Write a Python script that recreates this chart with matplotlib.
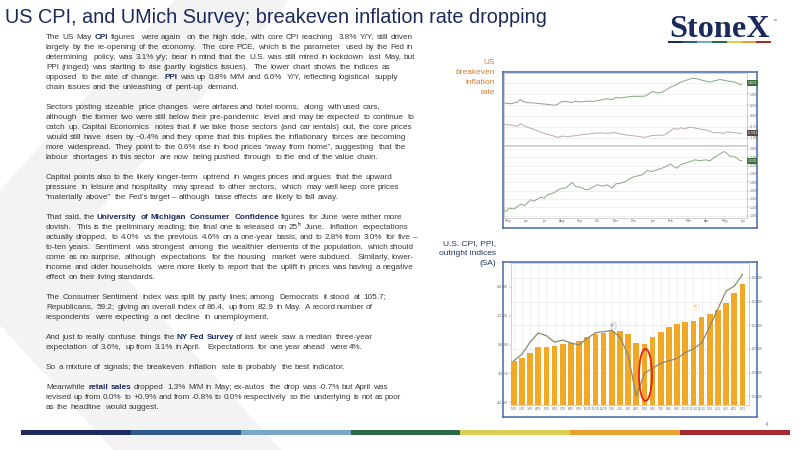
import matplotlib
matplotlib.use('Agg')
import matplotlib.pyplot as plt
from matplotlib.patches import Rectangle, Polygon, Ellipse
from matplotlib.transforms import blended_transform_factory

# ---------------- data ----------------
cpi_months = ['1/19', '2/19', '3/19', '4/19', '5/19', '6/19', '7/19', '8/19', '9/19', '10/19',
              '11/19', '12/19', '1/20', '2/20', '3/20', '4/20', '5/20', '6/20', '7/20', '8/20',
              '9/20', '10/20', '11/20', '12/20', '1/21', '2/21', '3/21', '4/21', '5/21']
cpi_index = [252.6, 253.2, 254.3, 255.5, 255.5, 255.6, 256.1, 256.3, 256.7, 257.6,
             258.2, 258.4, 258.9, 258.9, 258.2, 256.4, 256.1, 257.5, 258.7, 259.7,
             260.2, 260.6, 261.0, 261.7, 262.3, 263.2, 264.7, 266.8, 268.6]
ppi_index = [119.0, 119.55, 120.57, 121.35, 121.12, 120.57, 120.76, 120.51, 120.34, 120.9,
             121.38, 121.46, 121.58, 121.0, 119.5, 116.0, 117.95, 118.37, 118.8, 119.0,
             119.2, 119.7, 120.0, 120.5, 121.9, 123.4, 124.9, 125.3, 126.3]
cpi_ticks = [244, 250, 256, 262, 268]
ppi_ticks = [116, 118, 120, 122, 124, 126]

# breakeven chart: x = months since start of May 2020
month_labels = ['May', 'Jun', 'Jul', 'Aug', 'Sep', 'Oct', 'Nov', 'Dec',
                'Jan', 'Feb', 'Mar', 'Apr', 'May', 'Jun']
nominal_t = [-0.19, 0.18, 0.55, 0.70, 0.82, 1.10, 1.47, 1.83, 2.20, 2.57, 2.75, 2.94, 3.21,
             3.49, 3.76, 4.04, 4.41, 4.77, 5.14, 5.51, 5.78, 5.97, 6.24, 6.61, 6.98, 7.34,
             7.62, 7.80, 7.99, 8.26, 8.45, 8.72, 9.00, 9.27, 9.55, 9.82, 10.01, 10.19, 10.47,
             10.83, 11.20, 11.48, 11.75, 11.94, 12.30, 12.58, 12.76, 12.85, 12.95]
nominal_10y = [0.59, 0.56, 0.64, 0.76, 0.67, 0.61, 0.59, 0.56, 0.53, 0.49, 0.53, 0.64, 0.67,
               0.61, 0.67, 0.64, 0.68, 0.67, 0.73, 0.79, 0.74, 0.85, 0.82, 0.87, 0.90, 0.90,
               0.91, 1.02, 1.12, 1.06, 1.06, 1.17, 1.32, 1.40, 1.55, 1.62, 1.67, 1.73, 1.70,
               1.62, 1.55, 1.62, 1.67, 1.64, 1.58, 1.55, 1.47, 1.43, 1.47]
real_t = [-0.19, 0.18, 0.55, 0.73, 0.92, 1.28, 1.65, 2.02, 2.39, 2.75, 3.03, 3.30, 3.67, 4.22,
          4.77, 5.14, 5.51, 5.87, 6.24, 6.61, 6.98, 7.34, 7.62, 7.90, 8.26, 8.63, 8.81, 9.00,
          9.18, 9.36, 9.55, 9.82, 10.01, 10.28, 10.65, 11.02, 11.38, 11.66, 11.94, 12.12,
          12.49, 12.85, 12.95]
real_10y = [-0.39, -0.42, -0.47, -0.35, -0.45, -0.57, -0.68, -0.80, -0.88, -0.98, -0.92,
            -0.95, -0.91, -0.85, -0.80, -0.77, -0.80, -0.76, -0.82, -0.88, -0.91, -0.95,
            -0.98, -0.91, -0.88, -0.88, -0.80, -0.68, -0.57, -0.62, -0.54, -0.60, -0.51,
            -0.54, -0.60, -0.65, -0.77, -0.76, -0.80, -0.73, -0.76, -0.80, -0.79]
be_t = [-0.19, -0.09, 0.09, 0.37, 0.73, 0.92, 1.28, 1.47, 1.65, 1.83, 2.02, 2.20, 2.57, 2.84,
        3.03, 3.21, 3.40, 3.58, 3.76, 4.04, 4.31, 4.50, 4.77, 4.96, 5.23, 5.51, 5.78, 5.97,
        6.24, 6.52, 6.70, 6.89, 7.16, 7.44, 7.71, 7.99, 8.26, 8.54, 8.81, 9.00, 9.18, 9.36,
        9.55, 9.82, 10.10, 10.37, 10.65, 10.93, 11.20, 11.38, 11.66, 11.94, 12.12, 12.30,
        12.49, 12.67, 12.85, 12.95]
breakeven_10y = [1.12, 1.10, 1.18, 1.16, 1.28, 1.24, 1.38, 1.35, 1.40, 1.44, 1.42, 1.50, 1.55,
                 1.63, 1.66, 1.66, 1.74, 1.79, 1.70, 1.68, 1.62, 1.63, 1.70, 1.74, 1.71, 1.74,
                 1.66, 1.76, 1.78, 1.82, 1.87, 1.92, 1.95, 1.98, 2.08, 2.06, 2.10, 2.14, 2.19,
                 2.24, 2.18, 2.14, 2.22, 2.26, 2.30, 2.34, 2.32, 2.34, 2.32, 2.38, 2.46, 2.54,
                 2.50, 2.42, 2.43, 2.38, 2.32, 2.32]
upper_ticks = [-1.0, -0.5, 0.0, 0.5, 1.0, 1.5]
lower_ticks = [1.0, 1.2, 1.4, 1.6, 1.8, 2.0, 2.2, 2.4, 2.6]

title = 'US CPI, and UMich Survey; breakeven inflation rate dropping'
# (line text, right end of the line in the reference or None for natural spacing)
paragraphs = [
    [("The US May **CPI** figures  were again  on the high side, with core CPI reaching  3.8% Y/Y, still driven", 413),
     ("largely by the re-opening of the economy.  The core PCE, which is the parameter  used by the Fed in", 413),
     ("determining  policy, was 3.1% y/y; bear in mind that the U.S. was still mired in lockdown  last May, but", 415),
     ("PPI (ringed) was starting to rise (partly logistics issues).  The lower chart shows the indices as", 390),
     ("opposed  to the rate of change.  **PPI** was up 0.8% M/M and 6.6%  Y/Y, reflecting logistical  supply", 398),
     ("chain issues and the unleashing  of pent-up  demand.", None)],
    [("Sectors posting  sizeable  price changes  were airfares and hotel rooms,  along  with used cars,", 380),
     ("although  the former two were still below their pre-pandemic  level and may be expected  to continue  to", 415),
     ("catch up. Capital Economics  notes that if we take those sectors (and car rentals) out, the core prices", 412),
     ("would still have  risen by ~0.4% and they opine that this implies the inflationary  forces are becoming", 406),
     ("more widespread.  They point to the 0.6% rise in food prices \u201caway from home\u201d, suggesting  that the", 406),
     ("labour  shortages  in this sector  are now  being pushed  through  to the end of the value chain.", 378)],
    [("Capital points also to the likely longer-term  uptrend  in wages prices and argues  that the upward", 392),
     ("pressure  in leisure and hospitality  may spread  to other sectors,  which  may well keep core prices", 399),
     ("\u201cmaterially above\u201d  the Fed\u2019s target \u2013 although  base effects  are likely to fall away.", 338)],
    [("That said, the **University  of Michigan  Consumer  Confidence** figures  for June were rather more", 402),
     ("dovish.  This is the preliminary reading; the final one is released on 25^th June.  Inflation  expectations", 408),
     ("actually dropped,  to 4.0%  vs the previous  4.6% on a one-year  basis, and to 2.8% from 3.0%  for five \u2013", 417),
     ("to-ten years.  Sentiment  was strongest  among  the wealthier  elements of the population,  which should", 414),
     ("come as no surprise, although  expectations  for the housing  market were subdued.  Similarly, lower-", 414),
     ("income and older households  were more likely to report that the uplift in prices was having a negative", 413),
     ("effect on their living standards.", None)],
    [("The Consumer Sentiment  index was split by party lines; among  Democrats  it stood  at 105.7;", 386),
     ("Republicans,  59.2;  giving an overall index of 86.4,  up from 82.9  in May.  A record number of", 373),
     ("respondents  were expecting  a net decline  in unemployment.", None)],
    [("And just to really confuse  things the **NY Fed Survey** of last week  saw a median  three-year", 373),
     ("expectation  of 3.6%,  up from 3.1% in April.   Expectations  for one year ahead  were 4%.", 363)],
    [("So a mixture of signals; the breakeven  inflation  rate is probably  the best indicator.", None)],
    [("Meanwhile  **retail sales** dropped  1.3% M/M in May; ex-autos  the drop was -0.7% but April was", 388),
     ("revised up from 0.0%  to +0.9% and from -0.8% to 0.0% respectively  so the underlying  is not as poor", 401),
     ("as the headline  would suggest.", None)],
]

brand_colors = ['#1c2a5e', '#2f5b8c', '#78a6c8', '#2b6a48', '#d9cf56', '#e8a02e', '#a82a2e']

# ---------------- figure ----------------
W, H = 800, 450
fig = plt.figure(figsize=(8, 4.5), dpi=100)
fig.patch.set_facecolor('white')
renderer = fig.canvas.get_renderer()

bg = fig.add_axes([0, 0, 1, 1])
bg.set_xlim(0, W)
bg.set_ylim(H, 0)
bg.axis('off')
bg.set_zorder(-5)

FAM = ['Liberation Sans', 'DejaVu Sans']
NAVY = '#1b2a5c'

# watermark chevron
bg.add_patch(Polygon([(175, 0), (290, 0), (82, 229), (281, 450), (113, 450), (0, 325), (0, 190)],
                     closed=True, fc='#f3f3f3', ec='none', zorder=0))

# bottom colour bar
x0b, x1b = 21, 790
seg = (x1b - x0b) / len(brand_colors)
for i, c in enumerate(brand_colors):
    bg.add_patch(Rectangle((x0b + i * seg, 430), seg + 0.3, 4.7, fc=c, ec='none', zorder=2))
# logo bar
x0l, x1l = 668, 771
segl = (x1l - x0l) / len(brand_colors)
for i, c in enumerate(brand_colors):
    bg.add_patch(Rectangle((x0l + i * segl, 41), segl + 0.2, 2.4, fc=c, ec='none', zorder=2))


def measure(s, size, bold=False, family=FAM):
    t = bg.text(0, 0, s, fontsize=size, fontweight='bold' if bold else 'normal', family=family)
    w = t.get_window_extent(renderer).width
    t.remove()
    return w


# logo text fitted to width
logo_fam = ['Liberation Serif', 'DejaVu Serif']
lw0 = measure('StoneX', 20, bold=True, family=logo_fam)
logo_size = 20 * 100 / lw0
bg.text(669, 37, 'StoneX', fontsize=logo_size, fontweight='bold', family=logo_fam,
        color=NAVY, va='baseline', ha='left', zorder=3)
bg.text(773, 21, '\u2122', fontsize=3, family=FAM, color=NAVY, va='center', ha='left')

# title fitted to its width in the reference
tw0 = measure(title, 15)
bg.text(5, 22.7, title, fontsize=15 * 540 / tw0, family=FAM, color=NAVY, va='baseline',
        ha='left', zorder=3)

# body text, word by word, spread to the reference line ends
FS = 5.9
BODY = '#3a3a3a'
space_w = measure('a a', FS) - measure('aa', FS)
DEEP = set('gjpqy()[]{}|_Q')


def put(x, y, s, size, bold, col):
    # a word whose lowest glyph is a trailing comma/semicolon is rasterised one
    # pixel low by the text renderer; lift it back onto the common baseline
    if s[-1] in ',;' and not (set(s) & DEEP):
        y -= 1
    bg.text(x, y, s, fontsize=size, fontweight='bold' if bold else 'normal', family=FAM,
            color=col, va='baseline', ha='left', zorder=3)


def draw_line(x0, ybase, line, target):
    parts = line.split('**')
    words, gaps = [], []
    pending = 0
    for i, part in enumerate(parts):
        bold = (i % 2 == 1)
        for j, p in enumerate(part.split(' ')):
            if j > 0:
                pending += 1
            if p == '':
                continue
            if words:
                gaps.append(pending)
            pending = 0
            words.append((p, bold))
    widths = []
    for w, b in words:
        if '^' in w:
            base, sup = w.split('^')
            widths.append(measure(base, FS, b) + measure(sup, FS * 0.62, b))
        else:
            widths.append(measure(w, FS, b))
    unit = space_w
    ng = sum(gaps)
    if target is not None and ng > 0:
        unit = (target - x0 - sum(widths)) / ng
        unit = max(0.6 * space_w, min(unit, 2.5 * space_w))
    x = x0
    for k, ((w, b), wd) in enumerate(zip(words, widths)):
        col = NAVY if b else BODY
        if '^' in w:
            base, sup = w.split('^')
            put(x, ybase, base, FS, b, col)
            xb = x + measure(base, FS, b)
            put(xb, ybase - 3, sup, FS * 0.62, b, col)
        else:
            put(x, ybase, w, FS, b, col)
        x += wd
        if k < len(gaps):
            x += gaps[k] * unit


row = 0
for para in paragraphs:
    for line, target in para:
        draw_line(46, round(36.7 + 10 * row + 2.7), line, target)
        row += 1
    row += 1

# side labels
for k, s in enumerate(['US', 'breakeven', 'inflation', 'rate']):
    bg.text(495, 62.7 + 10 * k, s, fontsize=6.0, family=FAM, color='#d0802e',
            ha='right', va='center')
for k, s in enumerate(['U.S. CPI, PPI,', 'outright indices', '(SA)']):
    bg.text(496, 243.3 + 10 * k, s, fontsize=6.0, family=FAM, color='#1f3466',
            ha='right', va='center')

bg.text(767, 424, '4', fontsize=4.5, family=FAM, color='#8090a8', ha='center', va='center')


def px_axes(x0, y0, x1, y1):
    return fig.add_axes([x0 / W, 1 - y1 / H, (x1 - x0) / W, (y1 - y0) / H])


def frame(ax):
    ax.set_xticks([])
    ax.set_yticks([])
    for s in ax.spines.values():
        s.set_color('#4468a8')
        s.set_linewidth(1.1)


TINY = 2.3
GRID = '#e4e4e4'

# ---------------- breakeven chart ----------------
frT = px_axes(503.3, 71.7, 757.3, 227.7)
frame(frT)

axU = px_axes(504, 72.5, 746.7, 145)
axL = px_axes(504, 146, 746.7, 218.3)
for ax in (axU, axL):
    for s in ax.spines.values():
        s.set_color('#b0b0b0')
        s.set_linewidth(0.4)
    ax.yaxis.tick_right()
    ax.tick_params(axis='y', labelsize=TINY, colors='#666666', length=1.2, width=0.3, pad=0.8)
    ax.grid(axis='y', color=GRID, lw=0.4)
    ax.set_xlim(-0.204, 13.22)

axU.plot(nominal_t, nominal_10y, color='#86a97f', lw=0.7)
axU.plot(real_t, real_10y, color='#bca9a5', lw=0.7)
axU.set_ylim(-1.33, 1.99)
axU.set_yticks(upper_ticks)
# the 1.50 label sits under the last-price tag in the reference
axU.set_yticklabels(['%.2f' % v if v != 1.5 else '' for v in upper_ticks])
axU.set_xticks([])

axL.plot(be_t, breakeven_10y, color='#86a97f', lw=0.7)
axL.set_ylim(0.936, 2.672)
axL.set_yticks(lower_ticks)
axL.set_yticklabels(['%.2f' % v for v in lower_ticks])
axL.set_xticks(range(len(month_labels)))
axL.set_xticklabels(month_labels)
axL.tick_params(axis='x', labelsize=TINY, colors='#666666', length=0, pad=0.8)


def tag(ax, value, text, fc):
    tr = blended_transform_factory(ax.transAxes, ax.transData)
    ax.text(1.003, value, text, transform=tr, ha='left', va='center', fontsize=2.2,
            color='white', family=FAM, clip_on=False, zorder=6,
            bbox=dict(boxstyle='square,pad=0.3', fc=fc, ec='none'))


tag(axU, 1.52, '1.4653', '#3e6c3c')
tag(axU, real_10y[-1], '-0.7913', '#5b4b47')
tag(axL, breakeven_10y[-1], '2.3199', '#3e6c3c')

# legends of breakeven chart
bg.add_patch(Rectangle((505.7, 73.3), 57.6, 5.9, fc='white', ec='#aaaaaa', lw=0.3, zorder=1))
bg.add_patch(Rectangle((506.6, 74.2), 1.5, 1.5, fc='#8a7a76', ec='none', zorder=1))
bg.add_patch(Rectangle((506.6, 76.7), 1.5, 1.5, fc='#3e6c3c', ec='none', zorder=1))
bg.text(509, 75.0, 'USGGT10Y Index - Last Price as of 6/14/21   -0.79    -0.81', fontsize=1.6,
        family=FAM, color='#555555', va='center')
bg.text(509, 77.5, 'USGG10YR Index - USGG10YR Index             1.4653   1.4924', fontsize=1.6,
        family=FAM, color='#555555', va='center')
bg.add_patch(Rectangle((682.7, 146.7), 62.3, 3.6, fc='white', ec='#aaaaaa', lw=0.3, zorder=1))
bg.add_patch(Rectangle((683.5, 147.7), 1.5, 1.5, fc='#3e6c3c', ec='none', zorder=1))
bg.text(686, 148.5, 'USGGBE10 Index - USGGBE10 Index as of 6/14/21  2.3199   2.3051', fontsize=1.6,
        family=FAM, color='#555555', va='center')

bg.text(573.3, 223.0, '2020', fontsize=TINY, family=FAM, color='#666666', ha='center', va='center')
bg.text(688.3, 223.0, '2021', fontsize=TINY, family=FAM, color='#666666', ha='center', va='center')
bg.text(505, 226.4, 'USGG10YR Index (US Generic Govt 10 Yr) US Breakeven Inflation Daily 14MAY2020-14JUN2021',
        fontsize=1.7, family=FAM, color='#777777', va='center')
bg.text(665, 226.4, 'Copyright\u00a9 2021 Bloomberg Finance L.P.', fontsize=1.7, family=FAM,
        color='#777777', va='center', ha='center')
bg.text(756, 226.4, '14-Jun-2021 14:06:07', fontsize=1.7, family=FAM, color='#777777',
        va='center', ha='right')

# ---------------- CPI / PPI chart ----------------
frB = px_axes(503, 262, 757, 417)
frame(frB)

axB = px_axes(510.7, 263, 749, 405)
xs = list(range(len(cpi_months)))
axB.bar(xs, cpi_index, width=0.7, color='#f1a827', zorder=2)
axB.set_ylim(243.4, 273.0)
axB.set_xlim(-0.37, 28.8)
axB.set_yticks(cpi_ticks)
axB.set_yticklabels(['%.3f' % v for v in cpi_ticks])
axB.set_xticks(xs)
axB.set_xticklabels(cpi_months)
axB.tick_params(axis='x', labelsize=2.0, colors='#666666', length=0, pad=1.5)
axB.tick_params(axis='y', labelsize=2.0, colors='#666666', length=1.2, width=0.3, pad=0.6)
axB.set_axisbelow(True)
axB.grid(axis='x', color='#e8e8e8', lw=0.4, zorder=0)
for s in axB.spines.values():
    s.set_color('#b0b0b0')
    s.set_linewidth(0.4)

axB2 = axB.twinx()
axB2.plot(xs, ppi_index, color='#8b8b6d', lw=0.9, zorder=3)
axB2.set_ylim(115.27, 127.26)
axB2.set_yticks(ppi_ticks)
axB2.set_yticklabels(['%.3f' % v for v in ppi_ticks])
axB2.tick_params(axis='y', labelsize=2.0, colors='#666666', length=1.2, width=0.3, pad=0.6)
for s in axB2.spines.values():
    s.set_visible(False)

# horizontal grid at the right-hand ticks, drawn behind the bars
for t in ppi_ticks:
    yd = axB2.transData.transform((0, t))[1]
    yc = axB.transData.inverted().transform((0, yd))[1]
    axB.axhline(yc, color='#e0e0e0', lw=0.4, zorder=0)

axB2.add_patch(Ellipse((16.13, 117.81), width=1.59, height=4.39, fill=False,
                       ec='#e6211c', lw=1.3, zorder=6))

axB2.text(12.19, 121.94, 'PPI', fontsize=1.8, family=FAM, color='#555555', ha='center',
          va='center', zorder=6, bbox=dict(boxstyle='square,pad=0.25', fc='white', ec='#999999', lw=0.3))
axB.text(22.3, 263.8, 'CPI', fontsize=1.8, family=FAM, color='#e8a02e', ha='center',
         va='center', zorder=6, bbox=dict(boxstyle='square,pad=0.25', fc='white', ec='#f3cf8c', lw=0.3))

bg.add_patch(Rectangle((713, 262.8), 35, 9.4, fc='white', ec='#999999', lw=0.3, zorder=1))
fig_leg = [
    (730.5, 264.6, 'Last Price', 'center', None),
    (717, 267.4, 'CPI INDX Index    268.553   268.553', 'left', '#f1a827'),
    (717, 270.2, 'PPI FDD Index     126.310   126.310', 'left', '#3b3b24'),
]
for x, y, s, ha, c in fig_leg:
    bg.text(x, y, s, fontsize=1.6, family=FAM, color='#555555', ha=ha, va='center', zorder=7)
    if c is not None:
        bg.add_patch(Rectangle((714.2, y - 0.8), 1.6, 1.6, fc=c, ec='none', zorder=7))

bg.text(505, 415.3, 'CPI INDX Index (US CPI Urban Consumers SA) US Inflation Indices Monthly 01JAN2019-31MAY2021',
        fontsize=1.7, family=FAM, color='#777777', va='center')
bg.text(650, 415.3, 'Copyright\u00a9 2021 Bloomberg Finance L.P.', fontsize=1.7, family=FAM,
        color='#777777', va='center', ha='center')
bg.text(755, 415.3, '14-Jun-2021 14:04:35', fontsize=1.7, family=FAM, color='#777777',
        va='center', ha='right')

fig.savefig('out.png', dpi=100, facecolor='white')
